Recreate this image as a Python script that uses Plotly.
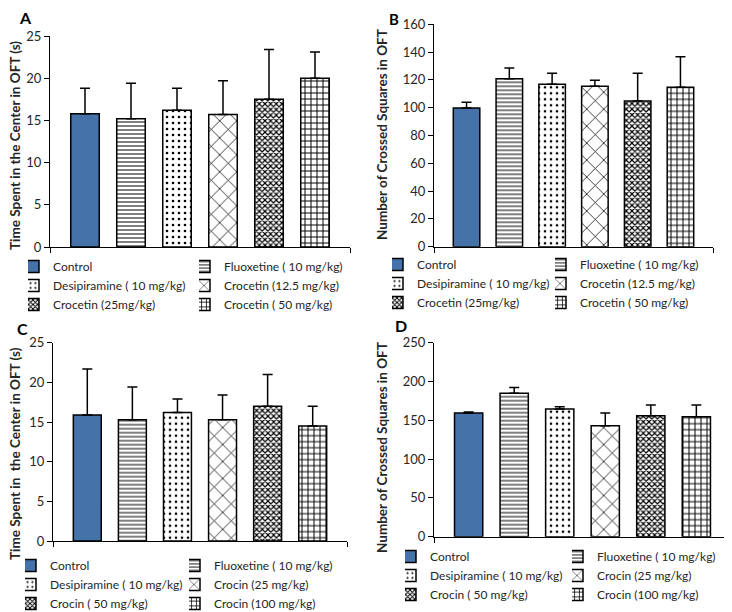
import plotly.graph_objects as go

# ---------------- data ----------------
groups_top = ["Control", "Fluoxetine ( 10 mg/kg)", "Desipiramine ( 10 mg/kg)",
              "Crocetin (12.5 mg/kg)", "Crocetin (25mg/kg)", "Crocetin ( 50 mg/kg)"]
groups_bottom = ["Control", "Fluoxetine ( 10 mg/kg)", "Desipiramine ( 10 mg/kg)",
                 "Crocin (25 mg/kg)", "Crocin ( 50 mg/kg)", "Crocin (100 mg/kg)"]

A_mean = [15.8, 15.2, 16.2, 15.7, 17.5, 20.0]
A_err = [3.0, 4.2, 2.6, 4.0, 5.9, 3.1]
B_mean = [99.8, 120.9, 116.8, 115.4, 104.8, 114.7]
B_err = [4.1, 7.7, 7.9, 4.3, 19.9, 22.0]
C_mean = [15.9, 15.3, 16.2, 15.3, 17.0, 14.5]
C_err = [5.8, 4.1, 1.7, 3.1, 4.0, 2.5]
D_mean = [159.4, 184.7, 164.5, 143.0, 155.9, 154.6]
D_err = [1.3, 7.7, 3.0, 16.4, 13.8, 15.1]

ytitle_time = "Time Spent in the Center in OFT (s)"
ytitle_time_c = "Time Spent in  the Center in OFT (s)"
ytitle_count = "Number of Crossed Squares in OFT"

# ---------------- styling ----------------
PAGE_OFF = 8            # default body margin of the html page
W, H = 732 - PAGE_OFF, 612 - PAGE_OFF
FONT = "Lato"
TXT = "#262626"
BLUE = "#4672AA"

patterns = [
    None,
    dict(shape="-", size=4, solidity=0.25),
    dict(shape=".", size=6, solidity=0.15),
    dict(shape="x", size=12, solidity=0.12),
    dict(shape="x", size=4, solidity=0.5),
    dict(shape="+", size=6, solidity=0.3),
]


def px_x(v):
    return (v - PAGE_OFF) / W


def px_y(v):
    return 1 - (v - PAGE_OFF) / H


panels = [
    dict(key="", means=A_mean, errs=A_err, groups=groups_top, ymax=25, dtick=5,
         xd=(50, 350), yd=(247, 36)),
    dict(key="2", means=B_mean, errs=B_err, groups=groups_top, ymax=160, dtick=20,
         xd=(434, 713), yd=(246.7, 24.3)),
    dict(key="3", means=C_mean, errs=C_err, groups=groups_bottom, ymax=25, dtick=5,
         xd=(53, 347), yd=(541, 342.7)),
    dict(key="4", means=D_mean, errs=D_err, groups=groups_bottom, ymax=250, dtick=50,
         xd=(434, 731), yd=(536.7, 342.7)),
]

# legend positions: (text-left x px, first row center y px) per panel, per column
legend_pos = [
    [(53, 266), (224, 266)],
    [(417, 264), (580, 264)],
    [(50, 565), (214, 565)],
    [(430, 556), (597, 556)],
]

fig = go.Figure()
layout = {}
leg_idx = 0
for pi, p in enumerate(panels):
    k = p["key"]
    xa = "x" + k
    ya = "y" + k
    legnames = []
    for col in range(2):
        leg_idx += 1
        lname = "legend" if leg_idx == 1 else f"legend{leg_idx}"
        legnames.append(lname)
        tx, ty = legend_pos[pi][col]
        layout[lname] = dict(
            x=px_x(tx - 25), y=px_y(ty - 14), xanchor="left", yanchor="top",
            orientation="v", bgcolor="rgba(0,0,0,0)", borderwidth=0,
            indentation=-15,
            font=dict(family=FONT, size=12, color=TXT), traceorder="normal",
            itemclick=False, itemdoubleclick=False,
        )
    for i, name in enumerate(p["groups"]):
        marker = dict(line=dict(color="black", width=1.5))
        if patterns[i] is None:
            marker["color"] = BLUE
        else:
            marker["color"] = "white"
            pat = dict(patterns[i])
            pat.update(fgcolor="black", bgcolor="white", fillmode="replace")
            marker["pattern"] = pat
        fig.add_trace(go.Bar(
            x=["OFT"], y=[p["means"][i]], name=name,
            xaxis=xa, yaxis=ya, legend=legnames[i % 2],
            marker=marker,
            error_y=dict(type="data", symmetric=False, array=[p["errs"][i]],
                         arrayminus=[0], color="black", thickness=1.5, width=5),
            hoverinfo="skip",
        ))
    xname = "xaxis" + k
    yname = "yaxis" + k
    layout[xname] = dict(
        domain=[px_x(p["xd"][0]), min(1.0, px_x(p["xd"][1]))], anchor=ya, type="category",
        showticklabels=False, showline=True, linecolor="black", linewidth=1.2,
        ticks="outside", tickson="boundaries", ticklen=5, tickcolor="black",
        showgrid=False, zeroline=False, automargin=False, fixedrange=True,
    )
    layout[yname] = dict(
        domain=[px_y(p["yd"][0]), px_y(p["yd"][1])], anchor=xa,
        range=[0, p["ymax"]], dtick=p["dtick"], tick0=0,
        showline=True, linecolor="black", linewidth=1.2,
        ticks="outside", ticklen=5, tickcolor="black",
        tickfont=dict(family=FONT, size=13, color=TXT),
        showgrid=False, zeroline=False, automargin=False, fixedrange=True,
    )

annotations = []
for txt, cx, cy in [(ytitle_time, 15, 146), (ytitle_count, 382, 134),
                    (ytitle_time_c, 15, 454), (ytitle_count, 382, 447)]:
    annotations.append(dict(
        text=txt, x=px_x(cx), y=px_y(cy), xref="paper", yref="paper",
        textangle=-90, showarrow=False, xanchor="center", yanchor="middle",
        font=dict(family=FONT, size=13.5, color=TXT, weight="bold"),
    ))
for txt, cx, cy, fs, ya_ in [("A", 25, 18, 16, "middle"), ("B", 394, 8, 15, "top"),
                             ("C", 22, 328, 16, "middle"), ("D", 401, 325, 16, "middle")]:
    annotations.append(dict(
        text=txt, x=px_x(cx), y=px_y(cy), xref="paper", yref="paper",
        showarrow=False, xanchor="center", yanchor=ya_,
        font=dict(family=FONT, size=fs, color="black", weight="bold"),
    ))

fig.update_layout(
    width=W, height=H, margin=dict(l=0, r=0, t=0, b=0, autoexpand=False),
    paper_bgcolor="white", plot_bgcolor="white",
    barmode="group", bargap=0.08, bargroupgap=0.38,
    annotations=annotations, showlegend=True,
    font=dict(family=FONT, color=TXT),
    **layout,
)

fig.write_html("out.html")
